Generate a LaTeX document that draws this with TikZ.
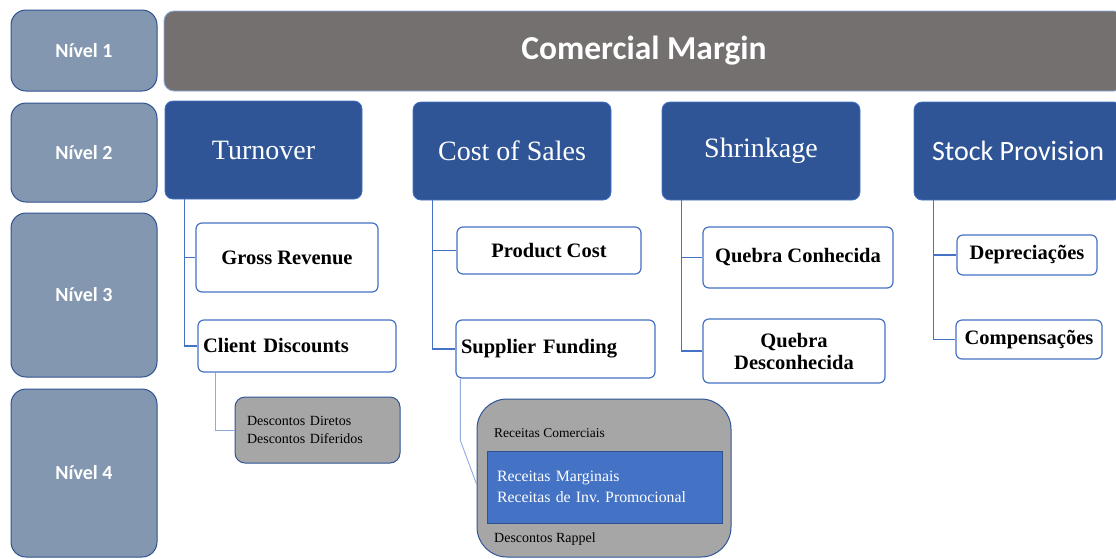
\documentclass[tikz,border=0pt]{standalone}
\usepackage{fontspec}
\setmainfont{Liberation Serif}
\newfontfamily\carlito{Carlito}
\frenchspacing

\definecolor{nivelfill}{HTML}{8497B0}
\definecolor{nivelline}{HTML}{2F528F}
\definecolor{topfill}{HTML}{747070}
\definecolor{darkblue}{HTML}{2F5597}
\definecolor{midblue}{HTML}{4472C4}
\definecolor{paleblue}{HTML}{8FAADC}
\definecolor{boxgray}{HTML}{A6A6A6}

\tikzset{
  nivel/.style={draw=nivelline,fill=nivelfill,line width=1pt,rounded corners=15pt,
    minimum width=146pt,inner sep=0pt,text=white,
    font=\carlito\bfseries\fontsize{20}{22}\selectfont},
  topbox/.style={draw=paleblue,fill=topfill,line width=0.8pt,rounded corners=10pt,
    minimum width=960pt,minimum height=80pt,inner sep=0pt,text=white,
    font=\carlito\bfseries\fontsize{33.5}{35}\selectfont},
  conta/.style={draw=midblue,fill=darkblue,line width=0.8pt,rounded corners=8pt,
    minimum height=98pt,inner sep=0pt,text=white,font=\fontsize{28}{30}\selectfont},
  sub/.style={draw=midblue,fill=white,line width=1.2pt,rounded corners=6pt,
    inner sep=0pt,align=center,font=\bfseries\fontsize{20.5}{22}\selectfont},
  grey/.style={draw=darkblue,fill=boxgray,line width=1pt,inner sep=0pt},
  ligacao/.style={draw=midblue,line width=1.5pt},
  ligfina/.style={draw=paleblue,line width=0.9pt}
}

\begin{document}
\begin{tikzpicture}[x=1pt,y=-1pt]
\useasboundingbox (0,0) rectangle (1116,558);
\clip (0,0) rectangle (1116,558);

% coluna dos niveis
\foreach \n/\y/\h in {1/50.5/81, 2/152.5/99, 3/295/164, 4/473/168} {
\node[nivel,minimum height=\h pt] (niv\n) at (84,\y) {Nível \n};
}

\node[topbox] (margem) at (644,51) {Comercial Margin};

% nivel 2
\node[conta,minimum width=197pt] (turn) at (263.5,150) {Turnover};
\node[conta,minimum width=198pt] (cost) at (512,151) {Cost of Sales};
\node[conta,minimum width=198pt] (shrink) at (761,151) {Shrinkage};
\node[conta,minimum width=208pt,font=\carlito\fontsize{28}{30}\selectfont] (stock) at (1018,151) {Stock Provision};

% nivel 3
\node[sub,minimum width=182pt,minimum height=69pt] (gross) at (287,257.5) {Gross Revenue};
\node[sub,minimum width=198pt,minimum height=52pt,text width=188pt,align=left] (cdisc) at (297,346) {Client Discounts};
\node[sub,minimum width=184pt,minimum height=47pt] (prodcost) at (549,250.5) {Product Cost};
\node[sub,minimum width=199pt,minimum height=58pt,text width=189pt,align=left] (supfund) at (555.5,349) {Supplier Funding};
\node[sub,minimum width=190pt,minimum height=61pt] (qcon) at (798,257.5) {Quebra Conhecida};
\node[sub,minimum width=182pt,minimum height=64pt] (qdesc) at (794,351) {Quebra\\Desconhecida};
\node[sub,minimum width=140pt,minimum height=40pt] (deprec) at (1027,255) {Depreciações};
\node[sub,minimum width=146pt,minimum height=39pt] (comp) at (1029,339.5) {Compensações};

\foreach \top/\a/\b in {turn/gross/cdisc, cost/prodcost/supfund, shrink/qcon/qdesc, stock/deprec/comp} {
\draw[ligacao] ([xshift=20pt]\top.south west) |- (\b.west);
\draw[ligacao] ([xshift=20pt]\top.south west) |- (\a.west);
}

% nivel 4
\node[grey,rounded corners=10pt,minimum width=165pt,minimum height=66pt,text width=141pt,align=left,
  font=\fontsize{14}{18}\selectfont] (desc) at (317.5,430) {Descontos Diretos\\Descontos Diferidos};
\node[grey,rounded corners=30pt,minimum width=254pt,minimum height=158pt] (rec) at (604,478) {};
\node[anchor=west,inner sep=0pt,font=\fontsize{13.5}{15}\selectfont] (rcom) at (494,433) {Receitas Comerciais};
\node[draw=nivelline,fill=midblue,line width=1pt,minimum width=235pt,minimum height=72pt,
  text width=215pt,inner sep=0pt,align=left,text=white,font=\fontsize{15.8}{21.5}\selectfont]
  (marg) at (604.5,487) {Receitas Marginais\\Receitas de Inv. Promocional};
\node[anchor=west,inner sep=0pt,font=\fontsize{14}{16}\selectfont] (rrap) at (494,539) {Descontos Rappel};

\draw[ligfina] ([xshift=18pt]cdisc.south west) |- (desc.west);
\draw[ligfina] ([xshift=5pt]supfund.south west) -- ++(0,62) -- ([yshift=-6pt]rec.west);

\end{tikzpicture}
\end{document}
